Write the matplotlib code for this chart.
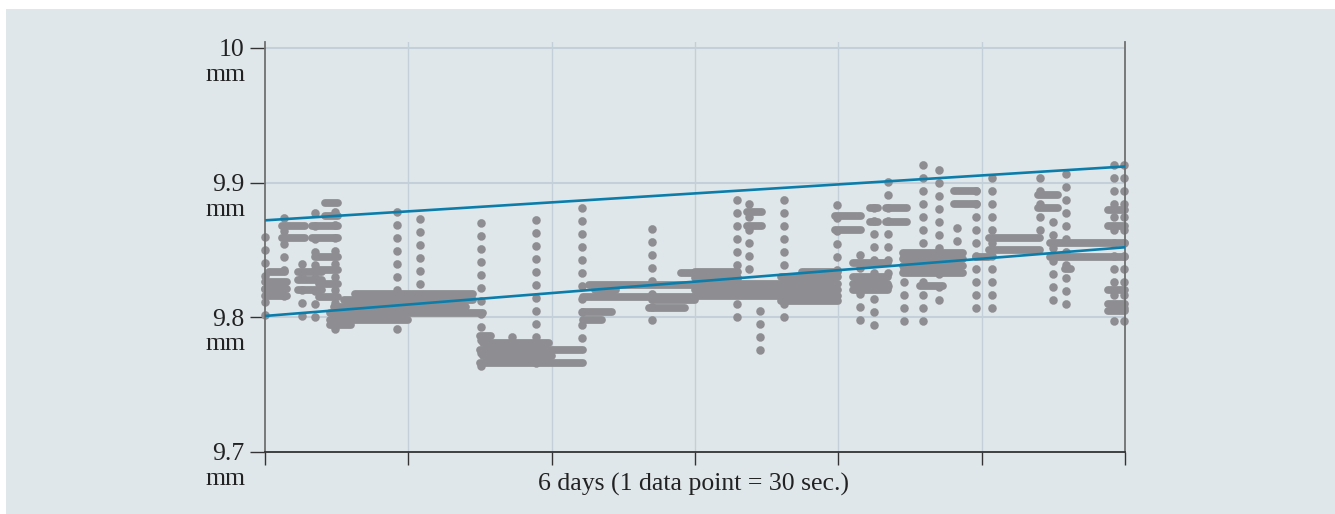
import matplotlib
matplotlib.use("Agg")
import matplotlib.pyplot as plt
from matplotlib.patches import Rectangle

plt.rcParams['font.family'] = ['Liberation Serif', 'DejaVu Serif']

# vertical columns of readings: day, lowest value, highest value (mm)
col_day = [0.00, 0.13, 0.26, 0.35, 0.49, 0.92, 1.08, 1.51, 1.72, 1.89,
           2.21, 2.70, 3.29, 3.38, 3.45, 3.62, 3.99, 4.15, 4.25, 4.35,
           4.46, 4.59, 4.70, 4.83, 4.96, 5.07, 5.41, 5.50, 5.59, 5.92, 5.99]
col_lo = [9.802, 9.816, 9.801, 9.800, 9.791, 9.791, 9.825, 9.764, 9.776, 9.766,
          9.785, 9.798, 9.800, 9.836, 9.776, 9.800, 9.835, 9.798, 9.794, 9.823,
          9.797, 9.797, 9.813, 9.857, 9.807, 9.807, 9.865, 9.813, 9.810, 9.797, 9.797]
col_hi = [9.861, 9.878, 9.843, 9.878, 9.885, 9.885, 9.880, 9.880, 9.795, 9.878,
          9.885, 9.875, 9.894, 9.894, 9.810, 9.893, 9.891, 9.855, 9.891, 9.903,
          9.850, 9.916, 9.916, 9.875, 9.901, 9.912, 9.907, 9.872, 9.913, 9.914, 9.914]

# horizontal runs of equal readings: start day, end day, value (mm)
run_t0 = [0.00, 0.00, 0.00, 0.03, 0.12, 0.12, 0.23, 0.23, 0.23,
          0.33, 0.33, 0.42, 0.42, 0.35, 0.35, 0.38, 0.38,
          0.63, 0.55, 0.48, 0.45, 0.45, 0.45,
          1.50, 1.52, 1.50, 1.52, 1.50,
          2.26, 2.22, 2.22, 2.22, 2.68, 2.30, 2.70, 2.90,
          3.00, 3.00, 3.00, 3.00, 3.00, 3.60, 3.60, 3.75, 3.36, 3.36,
          3.98, 3.98, 4.10, 4.10, 4.10, 4.10, 4.22, 4.22, 4.33, 4.33,
          4.45, 4.45, 4.45, 4.45, 4.57, 4.81, 4.81, 4.96,
          5.05, 5.05, 5.39, 5.39, 5.48, 5.48, 5.58, 5.88, 5.88, 5.88, 5.88, 5.88]
run_t1 = [0.15, 0.15, 0.15, 0.14, 0.28, 0.28, 0.40, 0.40, 0.40,
          0.51, 0.51, 0.51, 0.51, 0.51, 0.51, 0.51, 0.51,
          1.45, 1.45, 1.40, 1.52, 1.00, 0.60,
          1.58, 1.98, 2.22, 2.00, 2.22,
          3.00, 3.00, 2.42, 2.35, 2.93, 2.45, 3.00, 3.00,
          3.30, 3.30, 4.00, 4.00, 4.00, 4.00, 4.00, 4.00, 3.47, 3.47,
          4.16, 4.16, 4.35, 4.35, 4.35, 4.35, 4.28, 4.28, 4.48, 4.48,
          4.87, 4.87, 4.87, 4.87, 4.73, 4.97, 4.97, 5.05,
          5.41, 5.41, 5.53, 5.53, 6.00, 6.00, 5.62, 6.00, 6.00, 6.00, 6.00, 6.00]
run_y = [9.826, 9.821, 9.816, 9.834, 9.868, 9.859, 9.834, 9.828, 9.820,
         9.868, 9.859, 9.885, 9.875, 9.845, 9.835, 9.825, 9.815,
         9.817, 9.813, 9.808, 9.803, 9.798, 9.794,
         9.786, 9.781, 9.776, 9.771, 9.766,
         9.824, 9.815, 9.804, 9.798, 9.807, 9.820, 9.813, 9.833,
         9.834, 9.829, 9.825, 9.820, 9.816, 9.812, 9.830, 9.834, 9.878, 9.868,
         9.875, 9.865, 9.840, 9.830, 9.825, 9.820, 9.881, 9.871, 9.881, 9.871,
         9.848, 9.843, 9.838, 9.833, 9.823, 9.894, 9.884, 9.845,
         9.859, 9.850, 9.891, 9.881, 9.855, 9.845, 9.836, 9.880, 9.868, 9.820, 9.810, 9.805]

# trend lines (value at day 0 and day 6)
trend_days = [0, 6]
upper_trend = [9.872, 9.912]
lower_trend = [9.801, 9.852]

y_ticks = [9.7, 9.8, 9.9, 10.0]
y_labels = ['9.7', '9.8', '9.9', '10']

bg = '#e0e7ea'
dot = '#8e8e92'
blue = '#0b7dab'
fs = 18.5

fig = plt.figure(figsize=(13.35, 5.14), dpi=100)
fig.patch.set_facecolor('white')
fig.patches.append(Rectangle((6 / 1335, 0), 1, 1 - 9 / 514, transform=fig.transFigure,
                             facecolor=bg, edgecolor='none', zorder=-10))

ax = fig.add_axes([265 / 1335, 1 - 452 / 514, 860 / 1335, 410 / 514])
ax.set_facecolor(bg)
ax.set_xlim(0, 6)
ax.set_ylim(9.7, 10.0044)

for x in range(1, 6):
    ax.axvline(x, color='#c4d0d9', lw=1.0, zorder=0)
for y in [9.8, 9.9, 10.0]:
    ax.axhline(y, color='#c4d0d9', lw=1.5, zorder=0)

# dotted columns and solid runs of round dots
ax.vlines(col_day, col_lo, col_hi, colors=dot, linewidths=6.2,
          linestyles=[(0, (0.01, 1.5))], capstyle='round', zorder=2, clip_on=False)
ax.hlines(run_y, run_t0, run_t1, colors=dot, linewidths=5.6,
          capstyle='round', zorder=2, clip_on=False)

ax.plot(trend_days, upper_trend, color=blue, lw=1.9, zorder=3)
ax.plot(trend_days, lower_trend, color=blue, lw=1.9, zorder=3)

for s in ['left', 'right']:
    ax.spines[s].set_color('#707070')
    ax.spines[s].set_linewidth(1.3)
ax.spines['top'].set_visible(False)
ax.spines['bottom'].set_color('#333333')
ax.spines['bottom'].set_linewidth(1.3)

ax.set_xticks(range(0, 7))
ax.set_xticklabels([])
ax.tick_params(axis='x', length=9.4, width=1.0, color='#333333', direction='out')
ax.set_yticks(y_ticks)
ax.set_yticklabels(y_labels)
ax.tick_params(axis='y', length=10.8, width=1.0, color='#333333', direction='out',
               pad=4, labelsize=fs, labelcolor='#222222')

for v in y_ticks:
    ax.annotate('mm', xy=(0, v), xycoords=('axes fraction', 'data'),
                xytext=(-20, -27), textcoords='offset pixels',
                ha='right', va='center', fontsize=fs, color='#222222')

fig.text(694 / 1335, 1 - 484 / 514, '6 days (1 data point = 30 sec.)',
         ha='center', va='center', fontsize=fs, color='#222222')

fig.savefig('out.png', dpi=100, facecolor=fig.get_facecolor())
